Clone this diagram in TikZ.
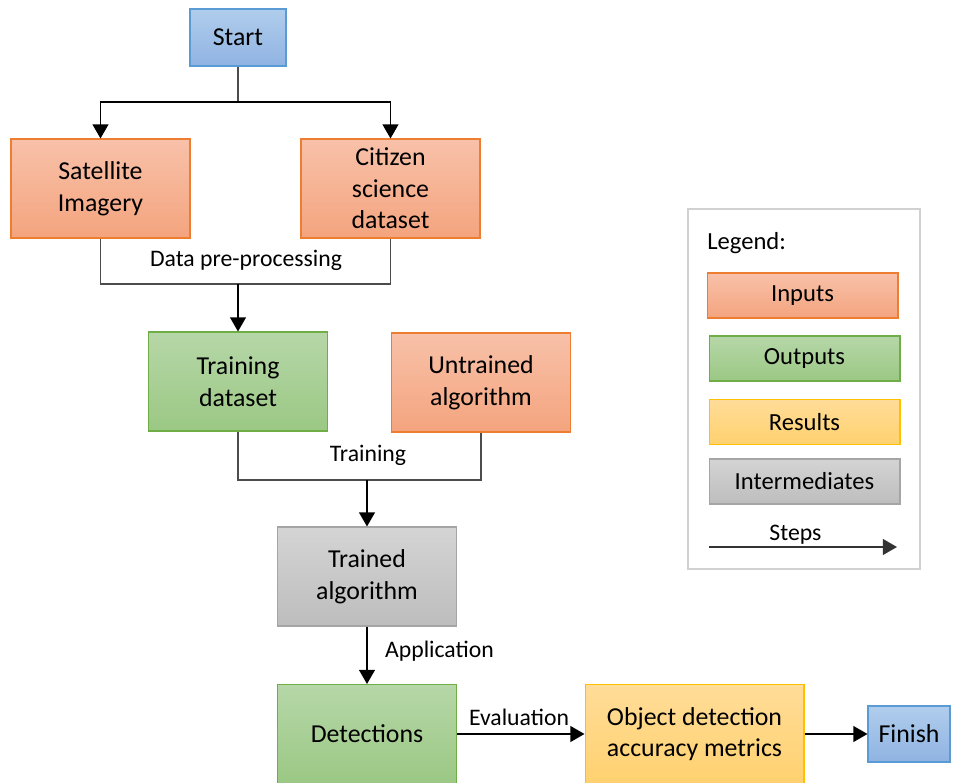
\documentclass[tikz,border=0pt]{standalone}
\usepackage{fontspec}
\setmainfont{Carlito}
\usepackage{xcolor}
\usepackage{tikz}
\usetikzlibrary{arrows.meta, positioning}

\definecolor{inTop}{HTML}{F8C1A9}
\definecolor{inBot}{HTML}{F4A47E}
\definecolor{inLine}{HTML}{ED7D31}
\definecolor{outTop}{HTML}{B6D7A8}
\definecolor{outBot}{HTML}{9BC884}
\definecolor{outLine}{HTML}{70AD47}
\definecolor{resTop}{HTML}{FFDC98}
\definecolor{resBot}{HTML}{FFD16F}
\definecolor{resLine}{HTML}{FFC000}
\definecolor{midTop}{HTML}{D4D4D4}
\definecolor{midBot}{HTML}{BDBDBD}
\definecolor{midLine}{HTML}{A5A5A5}
\definecolor{endTop}{HTML}{B0CDEC}
\definecolor{endBot}{HTML}{8FB3E2}
\definecolor{endLine}{HTML}{5B9BD5}

\begin{document}
\begin{tikzpicture}[x=0.02cm, y=-0.02cm, >={Triangle[width=9pt,length=8pt]}]
        % Styles for the kinds of boxes
        \tikzstyle{box} = [rectangle, inner sep=0pt, align=center, font=\fontsize{14.7}{18}\selectfont, line width=0.6pt]
        \tikzstyle{inputs} = [box, minimum width=3.58cm, minimum height=1.98cm, draw=inLine, top color=inTop, bottom color=inBot]
        \tikzstyle{outputs} = [box, minimum width=3.58cm, minimum height=1.98cm, draw=outLine, top color=outTop, bottom color=outBot]
        \tikzstyle{results} = [box, minimum width=4.38cm, minimum height=1.98cm, draw=resLine, top color=resTop, bottom color=resBot]
        \tikzstyle{intermediate} = [box, minimum width=3.58cm, minimum height=1.98cm, draw=midLine, top color=midTop, bottom color=midBot]
        \tikzstyle{startstop} = [box, draw=endLine, top color=endTop, bottom color=endBot]
        \tikzstyle{legendbox} = [box, minimum width=3.82cm, minimum height=0.9cm, font=\fontsize{14}{17}\selectfont]
        \tikzstyle{steplabel} = [font=\fontsize{13.5}{16}\selectfont, inner sep=1pt]
        \tikzstyle{line} = [line width=0.8pt, black!70]
        \tikzstyle{arrow} = [line width=0.8pt, black, ->]

        \useasboundingbox (0,0) rectangle (960,783);

        % Place the boxes
        \node (start) [startstop, minimum width=1.92cm, minimum height=1.14cm] at (238,37.5) {Start};
        \node (satellite) [inputs] at (100.5,188.5) {Satellite\\Imagery};
        \node (citizen) [inputs] at (390.5,188.5) {Citizen\\science\\dataset};
        \node (trainingData) [outputs] at (238,381.5) {Training\\dataset};
        \node (untrained) [inputs] at (481,382.5) {Untrained\\algorithm};
        \node (trained) [intermediate] at (367,576.5) {Trained\\algorithm};
        \node (detections) [outputs] at (367,734) {Detections};
        \node (metrics) [results] at (694.5,734) {Object detection\\accuracy metrics};
        \node (finish) [startstop, minimum width=1.64cm, minimum height=1.12cm] at (909,734) {Finish};

        % Split and merge points
        \coordinate (split) at (238,102);
        \coordinate (mergeData) at (238,284);
        \coordinate (mergeTrain) at (367,480);

        % Labels of the steps
        \node (preproc) [steplabel] at (246,260) {Data pre-processing};
        \node (trainLbl) [steplabel] at (368,455) {Training};
        \node (applyLbl) [steplabel, anchor=west] at (383,651) {Application};
        \node (evalLbl) [steplabel] at (519,717) {Evaluation};

        % Draw the arrows
        \draw [line] (start.south) -- (split);
        \draw [arrow] (split) -| (satellite.north);
        \draw [arrow] (split) -| (citizen.north);
        \draw [line] (satellite.south) |- (mergeData) -| (citizen.south);
        \draw [arrow] (mergeData) -- (trainingData.north);
        \draw [line] (trainingData.south) |- (mergeTrain) -| (untrained.south);
        \draw [arrow] (mergeTrain) -- (trained.north);
        \draw [arrow] (trained) -- (detections);
        \draw [arrow] (detections) -- (metrics);
        \draw [arrow] (metrics) -- (finish);

        % Legend
        \node (legendFrame) [draw=black!18, line width=1.6pt, minimum width=4.64cm, minimum height=7.2cm, inner sep=0pt] at (804,389) {};
        \node (legendTitle) [anchor=west, font=\fontsize{14}{17}\selectfont, inner sep=0pt] at (707,243) {Legend:};
        \node (legInputs) [legendbox, draw=inLine, top color=inTop, bottom color=inBot] at (802.5,295.5) {Inputs};
        \node (legOutputs) [legendbox, draw=outLine, top color=outTop, bottom color=outBot] at (804.5,358.5) {Outputs};
        \node (legResults) [legendbox, draw=resLine, top color=resTop, bottom color=resBot] at (804.5,422) {Results};
        \node (legMid) [legendbox, draw=midLine, top color=midTop, bottom color=midBot] at (804.5,481.5) {Intermediates};
        \coordinate (stepsFrom) at (709,547);
        \coordinate (stepsTo) at (897,547);
        \draw [arrow, black!80] (stepsFrom) -- node[steplabel, black, above, pos=0.46] {Steps} (stepsTo);
    \end{tikzpicture}
\end{document}
